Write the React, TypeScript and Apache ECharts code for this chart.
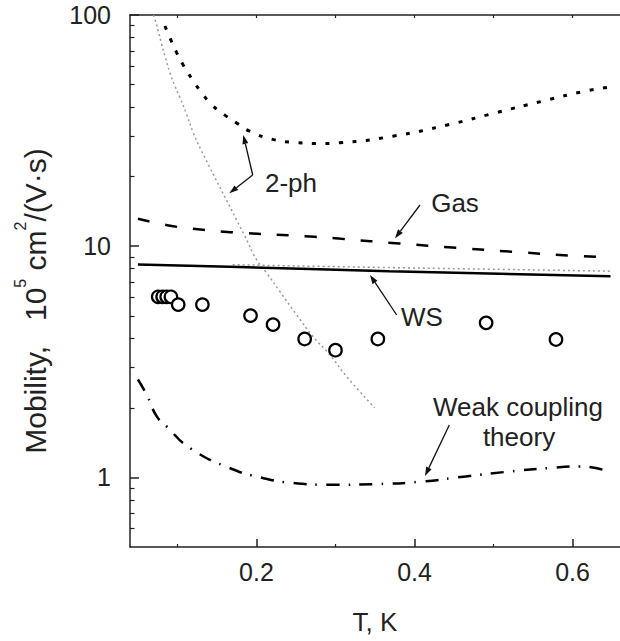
import React, { useEffect, useRef } from "react";
import * as echarts from "echarts";

// ---- data (T in K, mobility in 1e5 cm^2/(V·s)) ----
const T_2PH_A = [0.0842, 0.0914, 0.099, 0.1073, 0.1179, 0.1297, 0.1432, 0.16, 0.176, 0.1907, 0.222, 0.25, 0.28, 0.305, 0.3726, 0.444, 0.503, 0.562, 0.617, 0.648];
const MU_2PH_A = [89.6, 78.5, 68.8, 60.8, 53.2, 46.6, 41.0, 36.9, 33.9, 31.5, 28.9, 28.1, 27.8, 28.0, 29.9, 33.6, 37.8, 42.4, 46.9, 48.8];

const T_2PH_B = [0.0695, 0.0716, 0.0757, 0.08, 0.0842, 0.0905, 0.0968, 0.1032, 0.1116, 0.12, 0.1306, 0.1853, 0.2, 0.2127, 0.2295, 0.2506, 0.2715, 0.2926, 0.3137, 0.3495];
const MU_2PH_B = [100, 95.7, 85.3, 74.7, 66.4, 56.3, 49.3, 43.9, 37.2, 30.97, 25.8, 11.05, 8.76, 7.67, 6.38, 5.06, 4.07, 3.4, 2.74, 2.0];

const T_GAS = [0.05, 0.093, 0.129, 0.167, 0.2737, 0.3074, 0.381, 0.4527, 0.524, 0.596, 0.645];
const MU_GAS = [13.14, 12.23, 11.81, 11.5, 10.98, 10.76, 10.27, 9.84, 9.46, 9.11, 8.95];

const T_WS = [0.05, 0.166, 0.368, 0.648];
const MU_WS = [8.33, 8.14, 7.8, 7.41];

const T_WS_GRAY = [0.17, 0.29, 0.648];
const MU_WS_GRAY = [8.32, 8.17, 7.8];

const T_WEAK = [0.05, 0.061, 0.0737, 0.0864, 0.1158, 0.166, 0.208, 0.246, 0.293, 0.352, 0.41, 0.465, 0.52, 0.5705, 0.608, 0.6295, 0.645];
const MU_WEAK = [2.65, 2.28, 1.84, 1.66, 1.34, 1.098, 0.994, 0.946, 0.93, 0.936, 0.96, 1.01, 1.06, 1.098, 1.116, 1.098, 1.06];

const T_EXP = [0.0757, 0.0813, 0.0864, 0.0918, 0.101, 0.1316, 0.1925, 0.221, 0.261, 0.3, 0.3536, 0.4906, 0.579];
const MU_EXP = [6.04, 6.04, 6.04, 6.04, 5.59, 5.59, 5.01, 4.58, 3.97, 3.55, 3.97, 4.66, 3.95];

const X_MAJOR = [0.2, 0.4, 0.6];
const X_MINOR = [0.1, 0.3, 0.5];
const X_TOP = [0.1, 0.2, 0.3, 0.4, 0.5, 0.6];
const Y_MAJOR = [1, 10, 100];
const Y_MINOR = [0.6, 0.7, 0.8, 0.9, 2, 3, 4, 5, 6, 7, 8, 9, 20, 30, 40, 50, 60, 70, 80, 90];

const zip = (a: number[], b: number[]) => a.map((v, i) => [v, b[i]]);

const FONT = "'Liberation Sans', Arial, Helvetica, sans-serif";
const TXT = "#222";
const TICK = "#222";

function arrow(x1: number, y1: number, x2: number, y2: number) {
  const dx = x2 - x1, dy = y2 - y1;
  const L = Math.hypot(dx, dy);
  const ux = dx / L, uy = dy / L;
  const hl = 9, hw = 3;
  const bx = x2 - ux * hl, by = y2 - uy * hl;
  return [
    { type: "line", shape: { x1, y1, x2: bx, y2: by }, style: { stroke: "#111", lineWidth: 1.3 } },
    {
      type: "polygon",
      shape: { points: [[x2, y2], [bx - uy * hw, by + ux * hw], [bx + uy * hw, by - ux * hw]] },
      style: { fill: "#111" },
    },
  ];
}

function label(text: string, x: number, y: number) {
  return {
    type: "text",
    x,
    y,
    style: { text, font: `26px ${FONT}`, fill: TXT, align: "center", verticalAlign: "middle" },
  };
}

export default function App() {
  const ref = useRef<HTMLDivElement>(null);
  useEffect(() => {
    if (!ref.current) return;
    const chart = echarts.init(ref.current, null, { renderer: "svg" });
    const axisLine = { show: true, lineStyle: { color: "#222", width: 1.5 } };
    chart.setOption({
      animation: false,
      backgroundColor: "#fff",
      grid: { left: 130, right: 0, top: 15, bottom: 94 },
      xAxis: [
        {
          type: "value",
          min: 0.04,
          max: 0.66,
          position: "bottom",
          axisLine,
          axisTick: { show: true, inside: true, length: 8, customValues: X_MAJOR, lineStyle: { color: TICK, width: 1.5 } },
          axisLabel: {
            customValues: X_MAJOR,
            formatter: (v: number) => v.toFixed(1),
            fontSize: 25,
            fontFamily: FONT,
            color: TXT,
            margin: 12,
          },
          splitLine: { show: false },
          name: "T, K",
          nameLocation: "middle",
          nameGap: 62,
          nameTextStyle: { fontSize: 26, fontFamily: FONT, color: TXT },
        },
        {
          type: "value",
          min: 0.04,
          max: 0.66,
          position: "bottom",
          axisLine: { show: false },
          axisTick: { show: true, inside: true, length: 3, customValues: X_MINOR, lineStyle: { color: TICK, width: 1.2 } },
          axisLabel: { show: false },
          splitLine: { show: false },
        },
        {
          type: "value",
          min: 0.04,
          max: 0.66,
          position: "top",
          axisLine,
          axisTick: { show: true, inside: true, length: 3, customValues: X_TOP, lineStyle: { color: TICK, width: 1.2 } },
          axisLabel: { show: false },
          splitLine: { show: false },
        },
      ],
      yAxis: [
        {
          type: "log",
          logBase: 10,
          min: 0.5,
          max: 100,
          position: "left",
          axisLine,
          axisTick: { show: true, inside: true, length: 9, customValues: Y_MAJOR, lineStyle: { color: TICK, width: 1.5 } },
          axisLabel: {
            customValues: Y_MAJOR,
            formatter: (v: number) => String(Math.round(v)),
            fontSize: 25,
            fontFamily: FONT,
            color: TXT,
            margin: 19,
          },
          splitLine: { show: false },
        },
        {
          type: "log",
          logBase: 10,
          min: 0.5,
          max: 100,
          position: "left",
          axisLine: { show: false },
          axisTick: { show: true, inside: true, length: 4.5, customValues: Y_MINOR, lineStyle: { color: TICK, width: 1.2 } },
          axisLabel: { show: false },
          splitLine: { show: false },
        },
      ],
      series: [
        {
          name: "2-ph (lower)",
          type: "line",
          data: zip(T_2PH_B, MU_2PH_B),
          showSymbol: false,
          smooth: true,
          lineStyle: { color: "#999", width: 1.5, type: [2, 3] },
          z: 1,
        },
        {
          name: "2-ph (WS)",
          type: "line",
          data: zip(T_WS_GRAY, MU_WS_GRAY),
          showSymbol: false,
          smooth: true,
          lineStyle: { color: "#999", width: 1.5, type: [2, 3] },
          z: 1,
        },
        {
          name: "2-ph",
          type: "line",
          data: zip(T_2PH_A, MU_2PH_A),
          showSymbol: false,
          smooth: true,
          lineStyle: { color: "#000", width: 3, type: [4, 9.5] },
          z: 2,
        },
        {
          name: "Gas",
          type: "line",
          data: zip(T_GAS, MU_GAS),
          showSymbol: false,
          smooth: true,
          lineStyle: { color: "#000", width: 2.5, type: [12, 16] },
          z: 2,
        },
        {
          name: "WS",
          type: "line",
          data: zip(T_WS, MU_WS),
          showSymbol: false,
          smooth: true,
          lineStyle: { color: "#000", width: 2.5 },
          z: 2,
        },
        {
          name: "Weak coupling theory",
          type: "line",
          data: zip(T_WEAK, MU_WEAK),
          showSymbol: false,
          smooth: true,
          lineStyle: { color: "#000", width: 2.5, type: [13, 9, 1.5, 9.5] },
          z: 2,
        },
        {
          name: "Experiment",
          type: "scatter",
          data: zip(T_EXP, MU_EXP),
          symbol: "circle",
          symbolSize: 12.5,
          itemStyle: { color: "#fff", borderColor: "#000", borderWidth: 2.2, opacity: 1 },
          z: 3,
        },
      ],
      graphic: [
        {
          type: "text",
          x: 31,
          y: 301,
          rotation: Math.PI / 2,
          style: {
            text: "{a|Mobility,   10}{s|5}{a| cm}{s|2}{a|/(V·s)}",
            align: "center",
            verticalAlign: "middle",
            rich: {
              a: { fontSize: 30, fontFamily: FONT, fill: TXT, color: TXT, lineHeight: 38, verticalAlign: "bottom" },
              s: { fontSize: 16, fontFamily: FONT, fill: TXT, color: TXT, lineHeight: 16, verticalAlign: "top" },
            },
          },
        },
        label("2-ph", 291, 183),
        label("Gas", 455, 203),
        label("WS", 422, 317),
        label("Weak coupling", 518, 407),
        label("theory", 519, 437),
        ...arrow(252.7, 175, 243.3, 135),
        ...arrow(252.7, 175, 229.3, 193.3),
        ...arrow(420, 205, 395, 238.3),
        ...arrow(396.7, 315, 370, 275),
        ...arrow(449.3, 425, 425, 476),
      ],
    });
    return () => chart.dispose();
  }, []);
  return (
    <div
      ref={ref}
      style={{ position: "fixed", left: 0, top: 0, width: 620, height: 641, background: "#fff" }}
    />
  );
}
